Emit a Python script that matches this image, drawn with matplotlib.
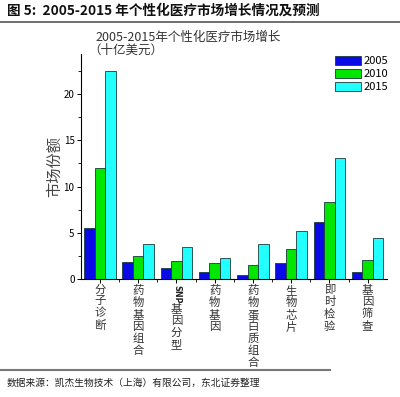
import matplotlib
matplotlib.use("Agg")
import matplotlib.pyplot as plt
import numpy as np
from matplotlib.lines import Line2D
from matplotlib.ticker import MultipleLocator
import matplotlib.transforms as mtransforms

plt.rcParams["font.family"] = ["Noto Sans CJK SC", "DejaVu Sans"]

# data (十亿美元)
categories = ["分子诊断", "药物基因组合", "SNP基因分型", "药物基因",
              "药物蛋白质组合", "生物芯片", "即时检验", "基因筛查"]
years = ["2005", "2010", "2015"]
v2005 = [5.5, 1.9, 1.2, 0.8, 0.5, 1.8, 6.2, 0.8]
v2010 = [12.0, 2.5, 2.0, 1.8, 1.5, 3.3, 8.3, 2.1]
v2015 = [22.5, 3.8, 3.5, 2.3, 3.8, 5.2, 13.1, 4.4]

colors = ["#0a0ae6", "#00e600", "#22ffff"]

fig = plt.figure(figsize=(4.0, 3.97), dpi=100)
ax = fig.add_axes([0.202, 0.2965, 0.765, 0.5675])

x = np.arange(1, len(categories) + 1)
width = 0.275
for i, (vals, c, lab) in enumerate(zip([v2005, v2010, v2015], colors, years)):
    ax.bar(x + (i - 1) * width, vals, width, color=c, edgecolor="#1a3a3a",
           linewidth=0.6, label=lab)

ax.set_xlim(0.5, 8.5)
ax.set_ylim(0, 24.3)
ax.spines["top"].set_visible(False)
ax.spines["right"].set_visible(False)
ax.yaxis.set_major_locator(MultipleLocator(5))
ax.yaxis.set_minor_locator(MultipleLocator(2.5))
ax.set_xticks(x)
ax.set_xticklabels([])
ax.set_xticks(np.arange(1.5, 8.5, 1), minor=True)
ax.tick_params(axis="both", which="major", direction="out", length=3, width=0.7)
ax.tick_params(axis="both", which="minor", direction="out", length=2, width=0.6)
ax.tick_params(axis="y", labelsize=7, pad=1.5)
for s in ["left", "bottom"]:
    ax.spines[s].set_linewidth(0.8)

# vertical category labels, one char per line
trans = mtransforms.blended_transform_factory(ax.transData, fig.transFigure)
y_top = 1 - 285 / 397
for xi, cat in zip(x, categories):
    if cat.startswith("SNP"):
        ax.text(xi, y_top, "SNP", transform=trans, rotation=270, ha="center",
                va="top", fontsize=5.8, fontweight="bold", color="#222222",
                family="DejaVu Sans")
        ax.text(xi, 1 - 304 / 397, "\n".join(cat[3:]), transform=trans,
                ha="center", va="top", fontsize=8.2, linespacing=1.15,
                color="#333333")
    else:
        ax.text(xi, y_top, "\n".join(cat), transform=trans, ha="center",
                va="top", fontsize=8.2, linespacing=1.15, color="#333333")

ax.set_ylabel("市场份额", fontsize=11, color="#444444", labelpad=0)

leg = ax.legend(loc="upper right", bbox_to_anchor=(388 / 400, 1 - 56 / 397),
                bbox_transform=fig.transFigure, frameon=False, fontsize=8,
                handlelength=2.3, handleheight=0.85, labelspacing=0.25,
                handletextpad=0.25, borderpad=0, borderaxespad=0)

# chart title inside figure
fig.text(95 / 400, 1 - 37 / 397, "2005-2015年个性化医疗市场增长", fontsize=9,
         color="#333333", ha="left", va="center")
fig.text(88 / 400, 1 - 50 / 397, "（十亿美元）", fontsize=9,
         color="#333333", ha="left", va="center")

# report header and footer
fig.text(7 / 400, 1 - 11 / 397, "图 5:  2005-2015 年个性化医疗市场增长情况及预测",
         fontsize=9.8, fontweight="bold", ha="left", va="center", color="#111111")
fig.add_artist(Line2D([0, 1], [1 - 22 / 397, 1 - 22 / 397],
                      transform=fig.transFigure, color="#555555", linewidth=1.2))
fig.add_artist(Line2D([0, 330 / 400], [1 - 370 / 397, 1 - 370 / 397],
                      transform=fig.transFigure, color="#777777", linewidth=1.5))
fig.text(7 / 400, 1 - 383 / 397, "数据来源：凯杰生物技术（上海）有限公司，东北证券整理",
         fontsize=7, ha="left", va="center", color="#222222")

fig.savefig("out.png", dpi=100)
